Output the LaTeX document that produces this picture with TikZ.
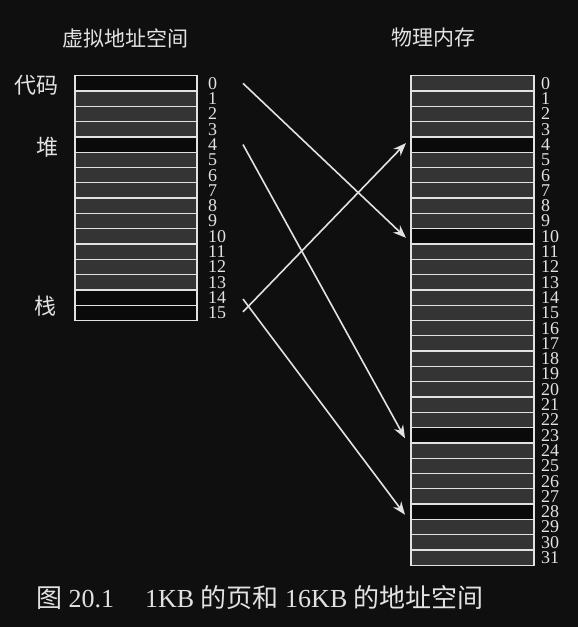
\documentclass[tikz,border=0pt]{standalone}
\usepackage{fontspec}
\setmainfont{Liberation Serif}
\newfontfamily\cjk{Noto Sans CJK SC}
\usetikzlibrary{arrows.meta,positioning}
\definecolor{bgblack}{HTML}{0F0F0F}
\definecolor{pagegray}{HTML}{343434}
\definecolor{pageused}{HTML}{0A0A0A}
\definecolor{edgewhite}{HTML}{E2E2E2}

\begin{document}
\begin{tikzpicture}[
    x=1pt, y=-1pt,
    page/.style={draw=edgewhite, line width=1.3pt, minimum width=122pt, minimum height=15.3pt, inner sep=0pt, outer sep=0pt},
    num/.style={text=edgewhite, font=\fontsize{18}{18}\selectfont, anchor=west, inner sep=0pt},
    seg/.style={text=edgewhite, font=\cjk\fontsize{22}{22}\selectfont, anchor=east, inner sep=0pt},
    title/.style={text=edgewhite, font=\cjk\fontsize{21}{22}\selectfont},
    arr/.style={-{Stealth[length=13pt,width=10pt]}, draw=edgewhite, fill=edgewhite, line width=1.6pt}
]
% Background
\fill[bgblack] (0,0) rectangle (578,627);
\useasboundingbox (0,0) rectangle (578,627);

% Titles
\node[title] (vtitle) at (125.5,38) {虚拟地址空间};
\node[title] (ptitle) at (433.5,38) {物理内存};

% Virtual address space: 16 pages, code, heap and stack in use
\foreach \i in {0,...,15}{
    \pgfmathparse{(\i==0||\i==4||\i>13) ? "pageused" : "pagegray"}
    \let\pagecol\pgfmathresult
    \node[page, fill=\pagecol] (v\i) at (136,83.35+15.3*\i) {};
    \node[num] (vn\i) at (208,83.35+15.3*\i) {\i};
}

% Physical memory: 32 frames
\foreach \i in {0,...,31}{
    \pgfmathparse{(\i==4||\i==10||\i==23||\i==28) ? "pageused" : "pagegray"}
    \let\pagecol\pgfmathresult
    \node[page, minimum width=123pt, fill=\pagecol] (p\i) at (472.5,83.35+15.3*\i) {};
    \node[num] (pn\i) at (541,83.35+15.3*\i) {\i};
}

% Segment labels
\node[seg] (code) at (59,85.5) {代码};
\node[seg] (heap) at (59,147) {堆};
\node[seg] (stack) at (57,306) {栈};

% Arrow start points, right of the page numbers
\coordinate (a0) at ([xshift=46pt]v0.east);
\coordinate (a4) at ([xshift=46pt]v4.east);
\coordinate (a14) at ([xshift=46pt, yshift=-1.5pt]v14.east);
\coordinate (a15) at ([xshift=46pt, yshift=1pt]v15.east);

% Page to frame mapping
\draw[arr] (a0) -- ([xshift=-5pt, yshift=-1.5pt]p10.west);
\draw[arr] (a4) -- ([xshift=-6pt, yshift=-3pt]p23.west);
\draw[arr] (a14) -- ([xshift=-6pt, yshift=-3pt]p28.west);
\draw[arr] (a15) -- ([xshift=-5pt, yshift=1.5pt]p4.west);

% Caption
\node[text=edgewhite, font=\fontsize{26}{26}\selectfont] (caption) at (260,598)
    {{\cjk 图} 20.1\hspace{31pt}1KB {\cjk 的页和} 16KB {\cjk 的地址空间}};
\end{tikzpicture}
\end{document}
